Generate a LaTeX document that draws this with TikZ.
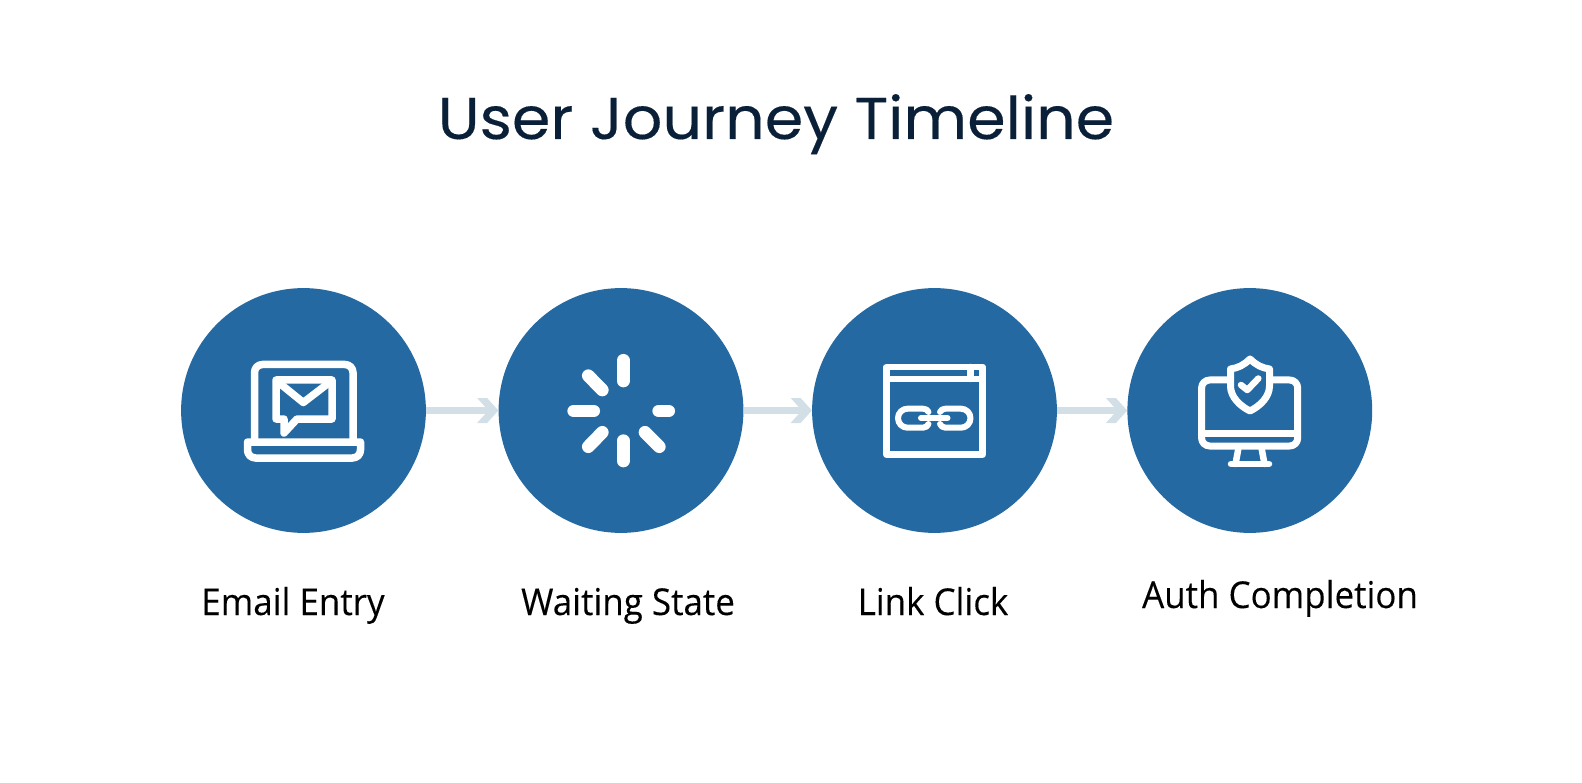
\documentclass[tikz,border=0pt]{standalone}
\usepackage{fontspec}
\setmainfont[FakeStretch=0.945,FakeBold=0.12]{Open Sans}
\newfontfamily\titlefont[FakeStretch=1.05,FakeBold=0.25]{Poppins}
\usetikzlibrary{arrows.meta}

\newcommand{\varR}{122.4}
\newcommand{\varcy}{410.5}
\definecolor{mystep}{RGB}{36,105,161}
\definecolor{myarrow}{RGB}{211,223,230}
\definecolor{mytitle}{RGB}{10,32,56}

\pgfdeclarearrow{
	name=Chevron,
	setup code={
		\pgfarrowssettipend{0pt}
		\pgfarrowssetlineend{-10pt}
		\pgfarrowssetbackend{-21.3pt}
		\pgfarrowssetvisualbackend{-10pt}
	},
	drawing code={
		\pgfpathmoveto{\pgfpoint{0pt}{0pt}}
		\pgfpathlineto{\pgfpoint{-11.3pt}{12.5pt}}
		\pgfpathlineto{\pgfpoint{-21.3pt}{12.5pt}}
		\pgfpathlineto{\pgfpoint{-10pt}{0pt}}
		\pgfpathlineto{\pgfpoint{-21.3pt}{-12.5pt}}
		\pgfpathlineto{\pgfpoint{-11.3pt}{-12.5pt}}
		\pgfpathclose
		\pgfusepathqfill
	}
}

\tikzset{
	stepdisc/.style={circle, fill=mystep, inner sep=0pt, minimum size=2*\varR pt},
	flowline/.style={myarrow, line width=7pt, -Chevron},
	steplabel/.style={anchor=base, inner sep=0pt, font=\fontsize{37}{37}\selectfont},
	icon/.style={white, line width=7.5pt, line join=round, line cap=round},
	iconthin/.style={icon, line width=6.5pt},
}

\begin{document}
\begin{tikzpicture}[x=1pt, y=-1pt]

	\useasboundingbox (0,0) rectangle (1582,783);

	% title
	\node [anchor=base, inner sep=0pt, text=mytitle, font=\titlefont\fontsize{59}{59}\selectfont] (title) at (776,139) {User Journey Timeline};

	% steps
	\node [stepdisc] (stepmail) at (303.5,\varcy) {};
	\node [stepdisc] (stepwait) at (621,\varcy) {};
	\node [stepdisc] (steplink) at (934.5,\varcy) {};
	\node [stepdisc] (stepauth) at (1249.8,\varcy) {};

	% arrows
	\draw [flowline] (stepmail) -- (stepwait);
	\draw [flowline] (stepwait) -- (steplink);
	\draw [flowline] (steplink) -- (stepauth);

	% labels
	\node [steplabel] (labelmail) at (293,615) {Email Entry};
	\node [steplabel] (labelwait) at (628,615) {Waiting State};
	\node [steplabel] (labellink) at (933,615) {Link Click};
	\node [steplabel] (labelauth) at (1280,608) {Auth Completion};

	% laptop
	\draw [icon] (254.5,441) -- (254.5,372.5) arc (180:270:8) -- (345,364.5) arc (270:360:8) -- (353,441);
	\draw [icon] (247.5,442) -- (360.5,442) -- (360.5,450) arc (0:90:8) -- (255.5,458) arc (90:180:8) -- cycle;
	\draw [icon] (276,380) -- (332,380) -- (332,419) -- (297,419) -- (284,433) -- (284,419) -- (276,419) -- cycle;
	\draw [icon] (278,382) -- (303.3,402.5) -- (330,382);

	% spinner
	\foreach \xa/\ya/\xb/\yb in {623.3/360.3/623.3/381, 588.3/375.7/602.3/390, 573.7/411/593.7/411, 658.7/411/668.7/411,
		602.3/432.3/588.3/446.7, 623.3/440.7/623.3/461, 645/432.3/659.3/446.7}
	{
		\draw [white, line width=12.7pt, line cap=round] (\xa,\ya) -- (\xb,\yb);
	}

	% browser
	\draw [iconthin] (886.5,367) rectangle (982.7,454.7);
	\draw [iconthin] (886.5,379) -- (982.7,379);
	\draw [iconthin] (970.3,367) -- (970.3,379);
	\draw [iconthin, line width=6pt] (928.5,412) .. controls (927.5,410) and (926,408.7) .. (923,408.7) -- (907.5,408.7) arc (270:90:9.5) -- (923,427.7) .. controls (926,427.7) and (927.5,426) .. (928.5,424);
	\draw [iconthin, line width=6pt] (940,412) .. controls (941,410) and (942.5,408.7) .. (945.5,408.7) -- (961,408.7) arc (270:450:9.5) -- (945.5,427.7) .. controls (942.5,427.7) and (941,426) .. (940,424);
	\draw [iconthin, line width=6pt] (921,418) -- (947.5,418);

	% monitor
	\draw [iconthin, line width=7pt] (1209.6,380) -- (1289.7,380) arc (270:360:8) -- (1297.7,438) arc (0:90:8) -- (1209.6,446) arc (90:180:8) -- (1201.6,388) arc (180:270:8) -- cycle;
	\draw [iconthin] (1201.6,433.3) -- (1297.7,433.3);
	\draw [iconthin] (1238.3,449) -- (1235.5,464);
	\draw [iconthin] (1261.7,449) -- (1264.5,464);
	\draw [iconthin] (1231,464) -- (1269,464);

	% shield
	\draw [icon, fill=mystep, line width=7pt] (1250,359) .. controls (1244,365) and (1238,368) .. (1230.5,369) -- (1230.5,386) .. controls (1230.5,397) and (1240,406) .. (1250,411) .. controls (1260,406) and (1269.5,397) .. (1269.5,386) -- (1269.5,369) .. controls (1262,368) and (1256,365) .. (1250,359) -- cycle;
	\draw [icon, line width=6.5pt] (1241,385) -- (1247.3,390) -- (1258.3,378.5);

\end{tikzpicture}
\end{document}
